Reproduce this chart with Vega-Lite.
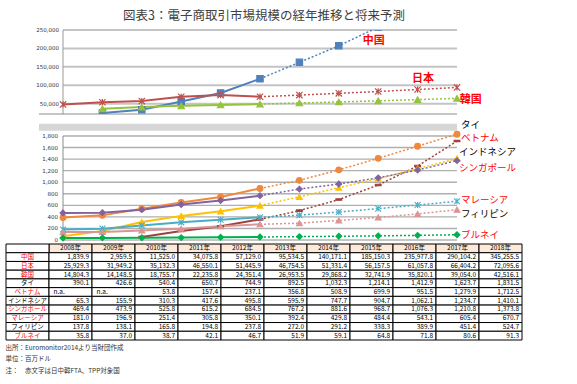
{
"$schema":"https://vega.github.io/schema/vega-lite/v6.json",
"background":"white",
"padding":{"left":5,"top":9,"right":0,"bottom":0},
"title":{"text":"図表3：電子商取引市場規模の経年推移と将来予測","fontSize":12.5,"fontWeight":"normal","color":"#404040","font":"Noto Sans CJK JP","anchor":"middle","offset":6},
"config":{"view":{"stroke":null},"font":"Noto Sans CJK JP"},
"resolve":{"scale":{"x":"independent","y":"independent","color":"independent","fill":"independent","stroke":"independent","shape":"independent"}},
"datasets":{
"econ":[
{"c":"中国","y":2008,"v":1839.9},{"c":"中国","y":2009,"v":2959.5},{"c":"中国","y":2010,"v":11525.0},{"c":"中国","y":2011,"v":34075.8},{"c":"中国","y":2012,"v":57129.0},{"c":"中国","y":2013,"v":95534.5},{"c":"中国","y":2014,"v":140171.1},{"c":"中国","y":2015,"v":185150.3},{"c":"中国","y":2016,"v":235977.8},{"c":"中国","y":2017,"v":290104.2},{"c":"中国","y":2018,"v":345255.5},
{"c":"日本","y":2008,"v":25929.3},{"c":"日本","y":2009,"v":31949.2},{"c":"日本","y":2010,"v":35132.3},{"c":"日本","y":2011,"v":46550.1},{"c":"日本","y":2012,"v":51445.9},{"c":"日本","y":2013,"v":46754.5},{"c":"日本","y":2014,"v":51331.4},{"c":"日本","y":2015,"v":56157.5},{"c":"日本","y":2016,"v":61057.8},{"c":"日本","y":2017,"v":66404.2},{"c":"日本","y":2018,"v":72095.6},
{"c":"韓国","y":2008,"v":14804.3},{"c":"韓国","y":2009,"v":14148.5},{"c":"韓国","y":2010,"v":18755.7},{"c":"韓国","y":2011,"v":22235.8},{"c":"韓国","y":2012,"v":24351.4},{"c":"韓国","y":2013,"v":26953.5},{"c":"韓国","y":2014,"v":29868.2},{"c":"韓国","y":2015,"v":32741.9},{"c":"韓国","y":2016,"v":35820.1},{"c":"韓国","y":2017,"v":39054.0},{"c":"韓国","y":2018,"v":42516.1},
{"c":"タイ","y":2008,"v":390.1},{"c":"タイ","y":2009,"v":426.6},{"c":"タイ","y":2010,"v":540.4},{"c":"タイ","y":2011,"v":650.7},{"c":"タイ","y":2012,"v":744.9},{"c":"タイ","y":2013,"v":892.5},{"c":"タイ","y":2014,"v":1032.3},{"c":"タイ","y":2015,"v":1214.1},{"c":"タイ","y":2016,"v":1412.9},{"c":"タイ","y":2017,"v":1623.7},{"c":"タイ","y":2018,"v":1831.5},
{"c":"ベトナム","y":2008,"v":null},{"c":"ベトナム","y":2009,"v":null},{"c":"ベトナム","y":2010,"v":53.8},{"c":"ベトナム","y":2011,"v":157.4},{"c":"ベトナム","y":2012,"v":237.1},{"c":"ベトナム","y":2013,"v":356.8},{"c":"ベトナム","y":2014,"v":508.9},{"c":"ベトナム","y":2015,"v":699.9},{"c":"ベトナム","y":2016,"v":951.5},{"c":"ベトナム","y":2017,"v":1279.9},{"c":"ベトナム","y":2018,"v":1712.5},
{"c":"インドネシア","y":2008,"v":65.3},{"c":"インドネシア","y":2009,"v":155.9},{"c":"インドネシア","y":2010,"v":310.3},{"c":"インドネシア","y":2011,"v":417.6},{"c":"インドネシア","y":2012,"v":495.8},{"c":"インドネシア","y":2013,"v":595.9},{"c":"インドネシア","y":2014,"v":747.7},{"c":"インドネシア","y":2015,"v":904.7},{"c":"インドネシア","y":2016,"v":1062.1},{"c":"インドネシア","y":2017,"v":1234.7},{"c":"インドネシア","y":2018,"v":1410.1},
{"c":"シンガポール","y":2008,"v":469.4},{"c":"シンガポール","y":2009,"v":473.9},{"c":"シンガポール","y":2010,"v":525.8},{"c":"シンガポール","y":2011,"v":615.2},{"c":"シンガポール","y":2012,"v":684.5},{"c":"シンガポール","y":2013,"v":767.2},{"c":"シンガポール","y":2014,"v":881.6},{"c":"シンガポール","y":2015,"v":968.7},{"c":"シンガポール","y":2016,"v":1076.3},{"c":"シンガポール","y":2017,"v":1210.8},{"c":"シンガポール","y":2018,"v":1373.8},
{"c":"マレーシア","y":2008,"v":181.0},{"c":"マレーシア","y":2009,"v":196.9},{"c":"マレーシア","y":2010,"v":251.4},{"c":"マレーシア","y":2011,"v":305.8},{"c":"マレーシア","y":2012,"v":350.1},{"c":"マレーシア","y":2013,"v":392.4},{"c":"マレーシア","y":2014,"v":429.8},{"c":"マレーシア","y":2015,"v":484.4},{"c":"マレーシア","y":2016,"v":543.1},{"c":"マレーシア","y":2017,"v":605.4},{"c":"マレーシア","y":2018,"v":670.7},
{"c":"フィリピン","y":2008,"v":137.8},{"c":"フィリピン","y":2009,"v":138.1},{"c":"フィリピン","y":2010,"v":165.8},{"c":"フィリピン","y":2011,"v":194.8},{"c":"フィリピン","y":2012,"v":237.8},{"c":"フィリピン","y":2013,"v":272.0},{"c":"フィリピン","y":2014,"v":291.2},{"c":"フィリピン","y":2015,"v":338.3},{"c":"フィリピン","y":2016,"v":389.9},{"c":"フィリピン","y":2017,"v":451.4},{"c":"フィリピン","y":2018,"v":524.7},
{"c":"ブルネイ","y":2008,"v":35.8},{"c":"ブルネイ","y":2009,"v":37.0},{"c":"ブルネイ","y":2010,"v":38.7},{"c":"ブルネイ","y":2011,"v":42.1},{"c":"ブルネイ","y":2012,"v":46.7},{"c":"ブルネイ","y":2013,"v":51.9},{"c":"ブルネイ","y":2014,"v":59.1},{"c":"ブルネイ","y":2015,"v":64.8},{"c":"ブルネイ","y":2016,"v":71.8},{"c":"ブルネイ","y":2017,"v":80.6},{"c":"ブルネイ","y":2018,"v":91.3}
],
"years":[{"y":2008,"t":"2008年"},{"y":2009,"t":"2009年"},{"y":2010,"t":"2010年"},{"y":2011,"t":"2011年"},{"y":2012,"t":"2012年"},{"y":2013,"t":"2013年"},{"y":2014,"t":"2014年"},{"y":2015,"t":"2015年"},{"y":2016,"t":"2016年"},{"y":2017,"t":"2017年"},{"y":2018,"t":"2018年"}],
"topgrid":[{"g":28000,"t":"50,000"},{"g":78000,"t":"100,000"},{"g":128000,"t":"150,000"},{"g":178000,"t":"200,000"},{"g":228000,"t":"250,000"}],
"botgrid":[{"g":0},{"g":200},{"g":400},{"g":600},{"g":800},{"g":1000},{"g":1200},{"g":1400},{"g":1600},{"g":1800}]
},
"bounds":"flush",
"spacing":0,
"vconcat":[
{
"width":516,"height":84,
"layer":[
{"data":{"name":"topgrid"},
 "mark":{"type":"rule","color":"#C4C4C4","strokeWidth":2},
 "encoding":{
  "x":{"datum":2008,"type":"quantitative","scale":{"domain":[2006.553,2019.65],"nice":false,"zero":false},"axis":null},
  "x2":{"datum":2018},
  "y":{"field":"g","type":"quantitative","scale":{"domain":[0,228000],"nice":false},"axis":null}}},
{"data":{"name":"topgrid"},
 "mark":{"type":"text","fontSize":5.5,"font":"DejaVu Sans","color":"#333333","align":"right","baseline":"middle","dx":-4},
 "encoding":{"x":{"datum":2008,"type":"quantitative"},"y":{"field":"g","type":"quantitative"},"text":{"field":"t"}}},
{"data":{"values":[{}]},"mark":{"type":"rule","color":"#999999","strokeWidth":1},
 "encoding":{"x":{"datum":2008,"type":"quantitative"},"y":{"datum":0,"type":"quantitative"},"y2":{"datum":228000}}},
{"data":{"values":[{}]},"mark":{"type":"rule","color":"#8C8C8C","strokeWidth":1},
 "encoding":{"x":{"datum":2007.39,"type":"quantitative"},"x2":{"datum":2018},"y":{"datum":0,"type":"quantitative"}}},
{"data":{"name":"econ"},"transform":[{"filter":"(datum.c=='日本') || ((datum.c=='中国' || datum.c=='韓国') && datum.y>=2009)"},{"filter":"datum.y<=2013"}],
 "mark":{"type":"line","strokeWidth":2,"clip":true},
 "encoding":{"x":{"field":"y","type":"quantitative"},"y":{"field":"v","type":"quantitative"},
  "color":{"field":"c","type":"nominal","scale":{"domain":["中国","日本","韓国"],"range":["#4F81BD","#C0504D","#94C43C"]},"legend":null}}},
{"data":{"name":"econ"},"transform":[{"filter":"(datum.c=='日本') || ((datum.c=='中国' || datum.c=='韓国') && datum.y>=2009)"},{"filter":"datum.y>=2013"}],
 "mark":{"type":"line","strokeWidth":1.5,"strokeDash":[2,2],"clip":true},
 "encoding":{"x":{"field":"y","type":"quantitative"},"y":{"field":"v","type":"quantitative"},
  "color":{"field":"c","type":"nominal","scale":{"domain":["中国","日本","韓国"],"range":["#4F81BD","#C0504D","#94C43C"]},"legend":null}}},
{"data":{"name":"econ"},"transform":[{"filter":"(datum.c=='日本') || ((datum.c=='中国' || datum.c=='韓国') && datum.y>=2009)"}],
 "mark":{"type":"point","clip":true,"size":40,"strokeWidth":1.2,"opacity":1},
 "encoding":{"x":{"field":"y","type":"quantitative"},"y":{"field":"v","type":"quantitative"},
  "fill":{"field":"c","type":"nominal","scale":{"domain":["中国","日本","韓国"],"range":["#4F81BD","#C0504D","#94C43C"]},"legend":null},
  "stroke":{"field":"c","type":"nominal","scale":{"domain":["中国","日本","韓国"],"range":["#4F81BD","#C0504D","#94C43C"]},"legend":null},
  "shape":{"field":"c","type":"nominal","scale":{"domain":["中国","日本","韓国"],"range":["square","M-1,-1L1,1M-1,1L1,-1M0,-1L0,1","triangle-up"]},"legend":null}}},
{"data":{"values":[{}]},"mark":{"type":"text","color":"#FF0000","fontSize":11,"fontWeight":"bold","align":"center","baseline":"middle"},
 "encoding":{"x":{"datum":2015.89,"type":"quantitative"},"y":{"datum":196800,"type":"quantitative"},"text":{"value":"中国"}}},
{"data":{"values":[{}]},"mark":{"type":"text","color":"#FF0000","fontSize":11,"fontWeight":"bold","align":"center","baseline":"middle"},
 "encoding":{"x":{"datum":2017.14,"type":"quantitative"},"y":{"datum":96350,"type":"quantitative"},"text":{"value":"日本"}}},
{"data":{"values":[{}]},"mark":{"type":"text","color":"#FF0000","fontSize":11,"fontWeight":"bold","align":"center","baseline":"middle"},
 "encoding":{"x":{"datum":2018.35,"type":"quantitative"},"y":{"datum":39350,"type":"quantitative"},"text":{"value":"韓国"}}}
]
},
{
"width":516,"height":22,
"data":{"values":[{}]},
"mark":{"type":"rect","color":"#D6D6D6"},
"encoding":{"x":{"datum":2007.39,"type":"quantitative","scale":{"domain":[2006.553,2019.65],"nice":false,"zero":false},"axis":null},"x2":{"datum":2018},
 "y":{"datum":5.3,"type":"quantitative","scale":{"domain":[0,22],"nice":false},"axis":null},"y2":{"datum":12.3}}
},
{
"width":516,"height":108,
"layer":[
{"data":{"name":"botgrid"},"transform":[{"filter":"datum.g > 0"}],
 "mark":{"type":"rule","color":"#AFAFAF","strokeWidth":1.4},
 "encoding":{
  "x":{"datum":2008,"type":"quantitative","scale":{"domain":[2006.553,2019.65],"nice":false,"zero":false},"axis":null},
  "x2":{"datum":2018},
  "y":{"field":"g","type":"quantitative","scale":{"domain":[-69,1800],"nice":false,"zero":false},"axis":null}}},
{"data":{"name":"botgrid"},
 "mark":{"type":"text","fontSize":5.5,"font":"DejaVu Sans","color":"#333333","align":"right","baseline":"middle","dx":-5},
 "encoding":{"x":{"datum":2008,"type":"quantitative"},"y":{"field":"g","type":"quantitative"},"text":{"field":"g","type":"quantitative","format":","}}},
{"data":{"values":[{}]},"mark":{"type":"rule","color":"#8C8C8C","strokeWidth":1},
 "encoding":{"x":{"datum":2008,"type":"quantitative"},"y":{"datum":0,"type":"quantitative"},"y2":{"datum":1800}}},
{"data":{"values":[{}]},"mark":{"type":"rule","color":"#8C8C8C","strokeWidth":1},
 "encoding":{"x":{"datum":2008,"type":"quantitative"},"x2":{"datum":2018},"y":{"datum":0,"type":"quantitative"}}},
{"data":{"name":"econ"},"transform":[{"filter":"indexof(['タイ','ベトナム','インドネシア','シンガポール','マレーシア','フィリピン','ブルネイ'], datum.c) >= 0 && datum.v != null"},{"filter":"datum.y<=2013"}],
 "mark":{"type":"line","strokeWidth":2},
 "encoding":{"x":{"field":"y","type":"quantitative"},"y":{"field":"v","type":"quantitative"},
  "color":{"field":"c","type":"nominal","scale":{"domain":["タイ","ベトナム","インドネシア","シンガポール","マレーシア","フィリピン","ブルネイ"],"range":["#F0883E","#A0403C","#FFC000","#8064A2","#4BACC6","#D99694","#00B050"]},"legend":null}}},
{"data":{"name":"econ"},"transform":[{"filter":"indexof(['タイ','ベトナム','インドネシア','シンガポール','マレーシア','フィリピン','ブルネイ'], datum.c) >= 0 && datum.v != null"},{"filter":"datum.y>=2013"}],
 "mark":{"type":"line","strokeWidth":1.5,"strokeDash":[2,2]},
 "encoding":{"x":{"field":"y","type":"quantitative"},"y":{"field":"v","type":"quantitative"},
  "color":{"field":"c","type":"nominal","scale":{"domain":["タイ","ベトナム","インドネシア","シンガポール","マレーシア","フィリピン","ブルネイ"],"range":["#F0883E","#A0403C","#FFC000","#8064A2","#4BACC6","#D99694","#00B050"]},"legend":null}}},
{"data":{"name":"econ"},"transform":[{"filter":"indexof(['タイ','ベトナム','インドネシア','シンガポール','マレーシア','フィリピン','ブルネイ'], datum.c) >= 0 && datum.v != null"}],
 "mark":{"type":"point","size":34,"strokeWidth":1.1,"opacity":1},
 "encoding":{"x":{"field":"y","type":"quantitative"},"y":{"field":"v","type":"quantitative"},
  "fill":{"field":"c","type":"nominal","scale":{"domain":["タイ","ベトナム","インドネシア","シンガポール","マレーシア","フィリピン","ブルネイ"],"range":["#F0883E","#A0403C","#FFC000","#8064A2","#4BACC6","#D99694","#00B050"]},"legend":null},
  "stroke":{"field":"c","type":"nominal","scale":{"domain":["タイ","ベトナム","インドネシア","シンガポール","マレーシア","フィリピン","ブルネイ"],"range":["#F0883E","#A0403C","#FFC000","#8064A2","#4BACC6","#D99694","#00B050"]},"legend":null},
  "shape":{"field":"c","type":"nominal","scale":{"domain":["タイ","ベトナム","インドネシア","シンガポール","マレーシア","フィリピン","ブルネイ"],"range":["circle","M-1,-0.25L1,-0.25L1,0.25L-1,0.25Z","triangle-up","diamond","M-1,-1L1,1M-1,1L1,-1M0,-1L0,1","triangle-up","diamond"]},"legend":null}}},
{"data":{"values":[{}]},"mark":{"type":"text","color":"#000000","fontSize":9.5,"align":"left","baseline":"middle"},
 "encoding":{"x":{"datum":2018.1,"type":"quantitative"},"y":{"datum":1995,"type":"quantitative"},"text":{"value":"タイ"}}},
{"data":{"values":[{}]},"mark":{"type":"text","color":"#FF0000","fontSize":9.5,"align":"left","baseline":"middle"},
 "encoding":{"x":{"datum":2018.1,"type":"quantitative"},"y":{"datum":1760,"type":"quantitative"},"text":{"value":"ベトナム"}}},
{"data":{"values":[{}]},"mark":{"type":"text","color":"#000000","fontSize":9.5,"align":"left","baseline":"middle"},
 "encoding":{"x":{"datum":2018.05,"type":"quantitative"},"y":{"datum":1520,"type":"quantitative"},"text":{"value":"インドネシア"}}},
{"data":{"values":[{}]},"mark":{"type":"text","color":"#FF0000","fontSize":9.5,"align":"left","baseline":"middle"},
 "encoding":{"x":{"datum":2018.05,"type":"quantitative"},"y":{"datum":1250,"type":"quantitative"},"text":{"value":"シンガポール"}}},
{"data":{"values":[{}]},"mark":{"type":"text","color":"#FF0000","fontSize":9.5,"align":"left","baseline":"middle"},
 "encoding":{"x":{"datum":2018.1,"type":"quantitative"},"y":{"datum":694,"type":"quantitative"},"text":{"value":"マレーシア"}}},
{"data":{"values":[{}]},"mark":{"type":"text","color":"#000000","fontSize":9.5,"align":"left","baseline":"middle"},
 "encoding":{"x":{"datum":2018.1,"type":"quantitative"},"y":{"datum":451,"type":"quantitative"},"text":{"value":"フィリピン"}}},
{"data":{"values":[{}]},"mark":{"type":"text","color":"#FF0000","fontSize":9.5,"align":"left","baseline":"middle"},
 "encoding":{"x":{"datum":2018.1,"type":"quantitative"},"y":{"datum":87,"type":"quantitative"},"text":{"value":"ブルネイ"}}}
]
},
{
"width":516,"height":96,
"title":{"text":["出所：Euromonitor2014より当財団作成","単位：百万ドル","注：　赤文字は日中韓FTA、TPP対象国"],"orient":"bottom","anchor":"start","fontSize":6.5,"fontWeight":"normal","lineHeight":11.5,"offset":4,"color":"#333333","font":"Noto Sans CJK JP"},
"layer":[
{"data":{"name":"years"},"mark":{"type":"rect","fill":"#FDE9D9","stroke":"#000000","strokeWidth":1},
 "encoding":{"x":{"field":"y","type":"ordinal","scale":{"type":"band","domain":[0,2008,2009,2010,2011,2012,2013,2014,2015,2016,2017,2018],"paddingInner":0,"paddingOuter":0},"axis":null},
  "y":{"datum":"h","type":"ordinal","scale":{"type":"band","domain":["h","中国","日本","韓国","タイ","ベトナム","インドネシア","シンガポール","マレーシア","フィリピン","ブルネイ"],"paddingInner":0,"paddingOuter":0},"axis":null}}},
{"data":{"values":[{}]},"mark":{"type":"rect","fill":"#FFFFFF","stroke":"#000000","strokeWidth":1},
 "encoding":{"x":{"datum":0,"type":"ordinal"},"y":{"datum":"h","type":"ordinal"}}},
{"data":{"name":"econ"},"transform":[{"filter":"datum.y==2008"}],"mark":{"type":"rect","fill":"#FFFFFF","stroke":"#000000","strokeWidth":1},
 "encoding":{"x":{"datum":0,"type":"ordinal"},"y":{"field":"c","type":"ordinal"}}},
{"data":{"name":"econ"},"mark":{"type":"rect","fill":"#FFFFFF","stroke":"#000000","strokeWidth":1},
 "encoding":{"x":{"field":"y","type":"ordinal"},"y":{"field":"c","type":"ordinal"}}},
{"data":{"name":"years"},"mark":{"type":"text","fontSize":6.5,"color":"#000000","baseline":"middle"},
 "encoding":{"x":{"field":"y","type":"ordinal"},"y":{"datum":"h","type":"ordinal"},"text":{"field":"t"}}},
{"data":{"name":"econ"},"transform":[{"filter":"datum.y==2008"}],"mark":{"type":"text","fontSize":6.5,"baseline":"middle"},
 "encoding":{"x":{"datum":0,"type":"ordinal"},"y":{"field":"c","type":"ordinal"},"text":{"field":"c"},
  "color":{"condition":{"test":"indexof(['タイ','インドネシア','フィリピン'], datum.c) >= 0","value":"#000000"},"value":"#FF0000"}}},
{"data":{"name":"econ"},"transform":[{"filter":"datum.v != null"}],"mark":{"type":"text","fontSize":6.5,"baseline":"middle","align":"right","dx":18.5,"color":"#000000"},
 "encoding":{"x":{"field":"y","type":"ordinal"},"y":{"field":"c","type":"ordinal"},"text":{"field":"v","type":"quantitative","format":",.1f"}}},
{"data":{"name":"econ"},"transform":[{"filter":"datum.v == null"}],"mark":{"type":"text","fontSize":6.5,"baseline":"middle","align":"left","dx":-17,"color":"#000000"},
 "encoding":{"x":{"field":"y","type":"ordinal"},"y":{"field":"c","type":"ordinal"},"text":{"value":"n.a."}}}
]
}
]
}
